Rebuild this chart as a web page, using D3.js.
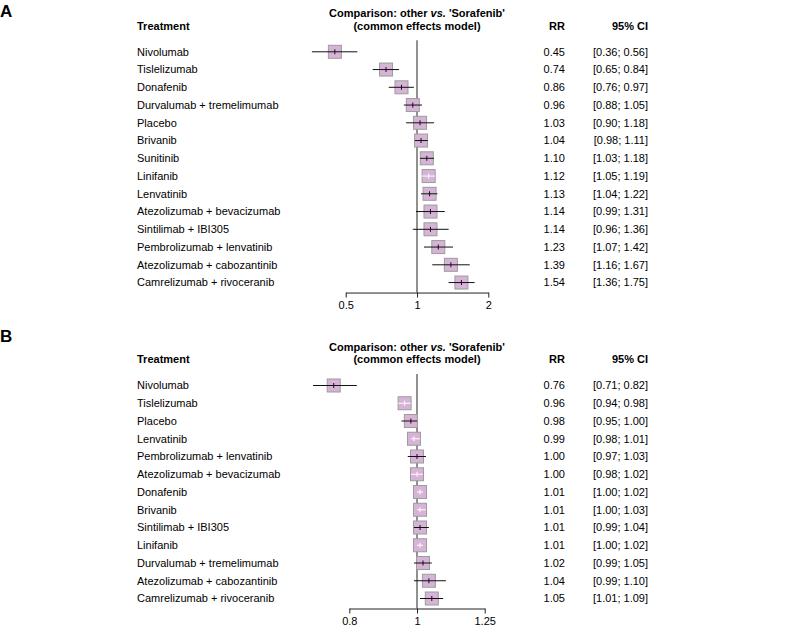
<!DOCTYPE html>
<html>
<head>
<meta charset="utf-8">
<script src="https://cdn.jsdelivr.net/npm/d3@7"></script>
<style>
  body { margin: 0; background: #fff; }
  svg { font-family: "Liberation Sans", Arial, sans-serif; }
  .hdr { font-weight: bold; font-size: 11px; }
  .lbl { font-size: 11px; }
  .axis text { font-size: 11px; font-family: "Liberation Sans", Arial, sans-serif; fill: #000; }
  .axis path, .axis line { stroke: #222; }
</style>
</head>
<body>
<script>
// panel A
const treatmentsA = ["Nivolumab", "Tislelizumab", "Donafenib", "Durvalumab + tremelimumab", "Placebo", "Brivanib",
  "Sunitinib", "Linifanib", "Lenvatinib", "Atezolizumab + bevacizumab", "Sintilimab + IBI305",
  "Pembrolizumab + lenvatinib", "Atezolizumab + cabozantinib", "Camrelizumab + rivoceranib"];
const rrA    = [0.45, 0.74, 0.86, 0.96, 1.03, 1.04, 1.10, 1.12, 1.13, 1.14, 1.14, 1.23, 1.39, 1.54];
const lowerA = [0.36, 0.65, 0.76, 0.88, 0.90, 0.98, 1.03, 1.05, 1.04, 0.99, 0.96, 1.07, 1.16, 1.36];
const upperA = [0.56, 0.84, 0.97, 1.05, 1.18, 1.11, 1.18, 1.19, 1.22, 1.31, 1.36, 1.42, 1.67, 1.75];
const insideA = ["Linifanib"];
const ticksA = [0.5, 1, 2];

// panel B
const treatmentsB = ["Nivolumab", "Tislelizumab", "Placebo", "Lenvatinib", "Pembrolizumab + lenvatinib",
  "Atezolizumab + bevacizumab", "Donafenib", "Brivanib", "Sintilimab + IBI305", "Linifanib",
  "Durvalumab + tremelimumab", "Atezolizumab + cabozantinib", "Camrelizumab + rivoceranib"];
const rrB    = [0.76, 0.96, 0.98, 0.99, 1.00, 1.00, 1.01, 1.01, 1.01, 1.01, 1.02, 1.04, 1.05];
const lowerB = [0.71, 0.94, 0.95, 0.98, 0.97, 0.98, 1.00, 1.00, 0.99, 1.00, 0.99, 0.99, 1.01];
const upperB = [0.82, 0.98, 1.00, 1.01, 1.03, 1.02, 1.02, 1.03, 1.04, 1.02, 1.05, 1.10, 1.09];
const insideB = ["Tislelizumab", "Lenvatinib", "Atezolizumab + bevacizumab", "Donafenib", "Brivanib", "Linifanib"];
const ticksB = [0.8, 1, 1.25];

const svg = d3.select("body").append("svg")
  .attr("width", 787)
  .attr("height", 634);

const fmt = d3.format(".2f");
const box = 13;
const step = 17.75;

const drawPanel = function (p) {
  const g = svg.append("g").attr("transform", "translate(0," + p.top + ")");
  const rows = p.treatments.map((t, i) => ({
    name: t, rr: p.rr[i], lo: p.lower[i], hi: p.upper[i], inside: p.inside.indexOf(t) !== -1
  }));

  const x = d3.scaleLog().domain([p.ticks[0], p.ticks[p.ticks.length - 1]]).range(p.range);
  const y = d3.scaleLinear().domain([0, rows.length - 1]).range([51.8, 51.8 + step * (rows.length - 1)]);
  const axisY = y(rows.length - 1) + 10;

  // panel letter
  svg.append("text")
    .attr("x", 0).attr("y", p.letterY)
    .style("font-weight", "bold").style("font-size", "17px")
    .text(p.letter);

  // headers
  const h1 = y(0) - 34.5, h2 = y(0) - 22;
  g.append("text").attr("class", "hdr").attr("x", 137).attr("y", h2).text("Treatment");
  const cx = 417;
  const t1 = g.append("text").attr("class", "hdr").attr("x", cx).attr("y", h1).attr("text-anchor", "middle");
  t1.append("tspan").text("Comparison: other ");
  t1.append("tspan").style("font-style", "italic").text("vs.");
  t1.append("tspan").text(" 'Sorafenib'");
  g.append("text").attr("class", "hdr").attr("x", cx).attr("y", h2).attr("text-anchor", "middle")
    .text("(common effects model)");
  g.append("text").attr("class", "hdr").attr("x", 565).attr("y", h2).attr("text-anchor", "end").text("RR");
  g.append("text").attr("class", "hdr").attr("x", 648).attr("y", h2).attr("text-anchor", "end").text("95% CI");

  // reference line
  g.append("line")
    .attr("x1", x(1)).attr("x2", x(1))
    .attr("y1", y(0) - 11.5).attr("y2", axisY)
    .attr("stroke", "#222").attr("stroke-width", 1);

  // axis
  g.append("g").attr("class", "axis")
    .attr("transform", "translate(0," + axisY + ")")
    .call(d3.axisBottom(x).tickValues(p.ticks).tickFormat(d3.format("")).tickSize(5).tickSizeOuter(0).tickPadding(4))
    .call(a => a.selectAll("text").attr("font-size", null));

  const row = g.selectAll(".row").data(rows).join("g").attr("class", "row");

  row.append("text").attr("class", "lbl")
    .attr("x", 137).attr("y", (d, i) => y(i)).attr("dy", "0.35em")
    .text(d => d.name);
  row.append("text").attr("class", "lbl")
    .attr("x", 565).attr("y", (d, i) => y(i)).attr("dy", "0.35em").attr("text-anchor", "end")
    .text(d => fmt(d.rr));
  row.append("text").attr("class", "lbl")
    .attr("x", 648).attr("y", (d, i) => y(i)).attr("dy", "0.35em").attr("text-anchor", "end")
    .text(d => "[" + fmt(d.lo) + "; " + fmt(d.hi) + "]");

  row.append("rect")
    .attr("x", d => x(d.rr) - box / 2)
    .attr("y", (d, i) => y(i) - box / 2)
    .attr("width", box).attr("height", box)
    .attr("fill", "#d8b3d8")
    .attr("stroke", "#9c9c9c").attr("stroke-width", 1);

  row.append("line")
    .attr("x1", d => x(d.lo)).attr("x2", d => x(d.hi))
    .attr("y1", (d, i) => y(i)).attr("y2", (d, i) => y(i))
    .attr("stroke", d => d.inside ? "#fff" : "#111").attr("stroke-width", 1);
  row.append("line")
    .attr("x1", d => x(d.rr)).attr("x2", d => x(d.rr))
    .attr("y1", (d, i) => y(i) - 2.5).attr("y2", (d, i) => y(i) + 2.5)
    .attr("stroke", d => d.inside ? "#fff" : "#111").attr("stroke-width", 1);
};

drawPanel({ letter: "A", letterY: 17, top: 0, treatments: treatmentsA, rr: rrA, lower: lowerA, upper: upperA,
  inside: insideA, ticks: ticksA, range: [345.7, 488.3] });
drawPanel({ letter: "B", letterY: 342, top: 333.7, treatments: treatmentsB, rr: rrB, lower: lowerB, upper: upperB,
  inside: insideB, ticks: ticksB, range: [349.3, 484.7] });
</script>
</body>
</html>
